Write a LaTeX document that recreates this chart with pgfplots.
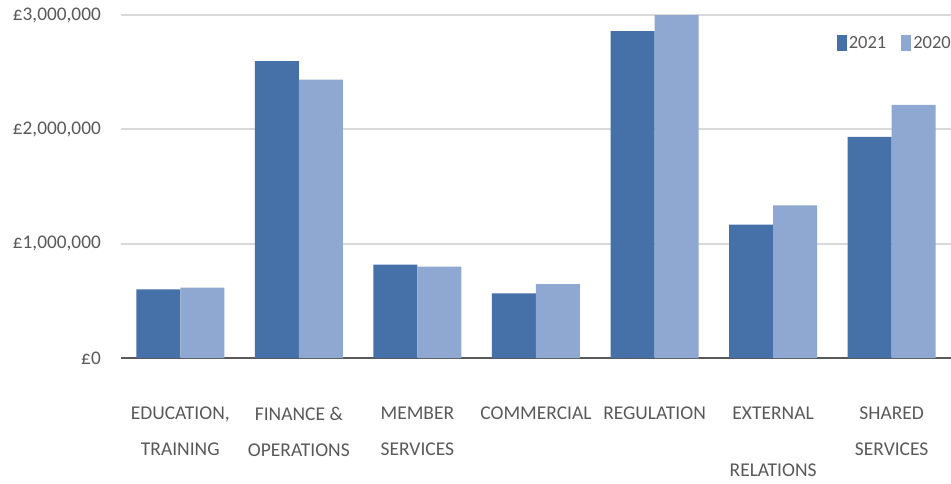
\documentclass[border=0pt]{standalone}
\usepackage{pgfplots}
\pgfplotsset{compat=1.18}
\usepackage{fontspec}
\setmainfont{Carlito}
\definecolor{darkbar}{HTML}{4570A8}
\definecolor{lightbar}{HTML}{8FA8D1}
\definecolor{txt}{HTML}{595959}
\definecolor{gridc}{HTML}{D9D9D9}
\begin{document}
\begin{tikzpicture}[x=1pt,y=1pt]
\path[use as bounding box] (0,0) rectangle (951,483);
\begin{axis}[
  at={(121pt,125pt)}, anchor=south west,
  scale only axis, width=830pt, height=343pt,
  xmin=-0.5, xmax=6.5, ymin=0, ymax=3000000,
  axis x line*=bottom, axis y line*=left,
  y axis line style={draw=none},
  x axis line style={draw=txt, line width=2.2pt},
  ymajorgrids, grid style={gridc, line width=1.8pt},
  major tick length=0pt,
  scaled y ticks=false,
  ytick={0,1000000,2000000,3000000},
  yticklabels={{£0},{£1,000,000},{£2,000,000},{£3,000,000}},
  yticklabel style={font=\fontsize{19.3}{22}\selectfont, text=txt, inner sep=0pt, anchor=east, xshift=-20pt},
  xtick={0,1,2,3,4,5,6},
  xticklabels={{EDUCATION,\\TRAINING},{FINANCE \&\\OPERATIONS},{MEMBER\\SERVICES},{COMMERCIAL},{REGULATION},{EXTERNAL\\[21pt]RELATIONS},{SHARED\\SERVICES}},
  xticklabel style={font=\fontsize{19.5}{36}\selectfont, text=txt, align=center, anchor=north, inner sep=0pt, yshift=-49pt},
  ybar=0pt, bar width=44pt,
  legend columns=2,
  legend style={at={(1,1)}, anchor=north east, yshift=-19pt, xshift=2pt, draw=none, fill=none,
    font=\fontsize{18.5}{22}\selectfont, text=txt, inner sep=0pt,
    nodes={inner sep=2pt},
    /tikz/every even column/.append style={column sep=13pt}},
  legend image code/.code={\fill[#1] (0pt,-8pt) rectangle (10pt,8pt);},
]
\addplot[fill=darkbar, draw=none] coordinates {(0,600000) (1,2596000) (2,816000) (3,565000) (4,2860000) (5,1167000) (6,1935000)};
\addplot[fill=lightbar, draw=none] coordinates {(0,615000) (1,2435000) (2,800000) (3,646000) (4,3000000) (5,1335000) (6,2215000)};
\legend{2021,2020}
\end{axis}
\end{tikzpicture}
\end{document}
